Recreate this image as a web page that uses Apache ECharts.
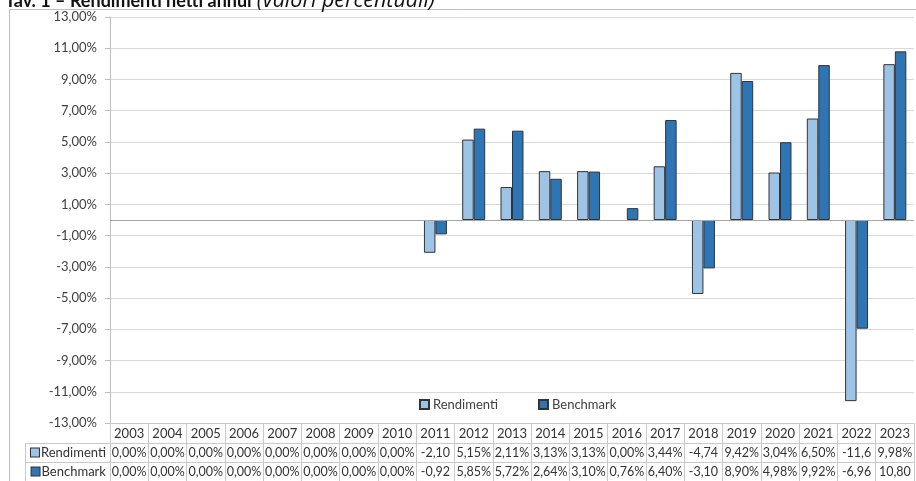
<!DOCTYPE html>
<html>
<head>
<meta charset="utf-8">
<title>Rendimenti netti annui</title>
<script src="https://cdn.jsdelivr.net/npm/echarts@6/dist/echarts.min.js"></script>
<style>
  html, body { margin: 0; padding: 0; background: #fff; }
  #chart { width: 916px; height: 481px; }
</style>
</head>
<body>
<div id="chart"></div>
<script>
// Anni della tabella
const years = ['2003','2004','2005','2006','2007','2008','2009','2010','2011','2012','2013',
               '2014','2015','2016','2017','2018','2019','2020','2021','2022','2023'];
// Rendimenti netti annui del fondo (%)
const rendimenti = [0, 0, 0, 0, 0, 0, 0, 0, -2.10, 5.15, 2.11, 3.13, 3.13, 0.00, 3.44, -4.74, 9.42, 3.04, 6.50, -11.60, 9.98];
// Rendimenti del benchmark (%)
const benchmark = [0, 0, 0, 0, 0, 0, 0, 0, -0.92, 5.85, 5.72, 2.64, 3.10, 0.76, 6.40, -3.10, 8.90, 4.98, 9.92, -6.96, 10.80];
// Scala dell'asse verticale (%)
const yMin = -13, yMax = 13, yStep = 2;

const FONT = 'Lato, "Open Sans", sans-serif';
const COL_R = '#9DC3E6';
const COL_B = '#2E75B6';
const EDGE = '#333333';
const CELL = '#c9c9c9';
const FS = 13;
const FS_CELL = 12.5;

const fmtPct = v => v.toFixed(2).replace('.', ',') + '%';
// le celle della tabella mostrano solo i caratteri che ci stanno (cinque)
const cellText = v => fmtPct(v).slice(0, 5);

// valori nulli: nessun bordo, così non compare una linea sullo zero
const barData = (arr) => arr.map(v => v === 0 ? { value: v, itemStyle: { borderWidth: 0 } } : v);

const rowName = (key, label) => '{' + key + '|}{t|' + label + '}';
const rowRich = {
  r: { width: 8, height: 8, backgroundColor: COL_R, borderColor: EDGE, borderWidth: 1 },
  b: { width: 8, height: 8, backgroundColor: COL_B, borderColor: EDGE, borderWidth: 1 },
  t: { fontFamily: FONT, fontSize: FS, color: '#333', padding: [0, 0, 0, 2] }
};

const chart = echarts.init(document.getElementById('chart'), null, { renderer: 'canvas' });

const gridLeft = 110, gridTop = 17, gridHeight = 406;

chart.setOption({
  animation: false,
  backgroundColor: '#fff',
  title: {
    left: 0,
    top: -15,
    text: '{b|Tav. 1 – Rendimenti netti annui} {i|(valori percentuali)}',
    textStyle: {
      rich: {
        b: { fontFamily: FONT, fontSize: 18, fontWeight: 'bold', color: '#111' },
        i: { fontFamily: '"Open Sans", sans-serif', fontSize: 21.5, fontWeight: 'normal', fontStyle: 'italic', color: '#111' }
      }
    }
  },
  legend: {
    data: ['Rendimenti', 'Benchmark'],
    left: 419,
    top: 398,
    padding: 0,
    icon: 'rect',
    itemWidth: 9,
    itemHeight: 9,
    itemGap: 40,
    textStyle: { fontFamily: FONT, fontSize: FS, color: '#404040', padding: [0, 0, 0, -1] }
  },
  grid: { left: gridLeft, right: 2, top: gridTop, height: gridHeight, containLabel: false },
  xAxis: [
    {
      type: 'category',
      data: years,
      position: 'bottom',
      axisLine: { onZero: false, lineStyle: { color: CELL } },
      axisTick: { show: true, length: 60, lineStyle: { color: CELL } },
      axisLabel: { interval: 0, margin: 4, fontFamily: FONT, fontSize: FS, color: '#333' },
      splitLine: { show: false }
    },
    {
      type: 'category',
      data: years,
      position: 'bottom',
      offset: 20,
      axisLine: { onZero: false, lineStyle: { color: CELL } },
      axisTick: { show: false },
      axisLabel: { interval: 0, margin: 3, fontFamily: FONT, fontSize: FS_CELL, color: '#333',
                   formatter: (v, i) => cellText(rendimenti[i]) },
      name: rowName('r', 'Rendimenti'),
      nameLocation: 'start',
      nameGap: 3,
      nameTextStyle: { rich: rowRich, verticalAlign: 'top', padding: [3, 0, 0, 0] }
    },
    {
      type: 'category',
      data: years,
      position: 'bottom',
      offset: 39,
      axisLine: { onZero: false, lineStyle: { color: CELL } },
      axisTick: { show: false },
      axisLabel: { interval: 0, margin: 3, fontFamily: FONT, fontSize: FS_CELL, color: '#333',
                   formatter: (v, i) => cellText(benchmark[i]) },
      name: rowName('b', 'Benchmark'),
      nameLocation: 'start',
      nameGap: 3,
      nameTextStyle: { rich: rowRich, verticalAlign: 'top', padding: [3, 0, 0, 0] }
    },
    {
      type: 'category',
      data: years,
      position: 'bottom',
      offset: 58,
      axisLine: { onZero: false, lineStyle: { color: CELL } },
      axisTick: { show: false },
      axisLabel: { show: false }
    }
  ],
  yAxis: {
    type: 'value',
    min: yMin,
    max: yMax,
    interval: yStep,
    axisLine: { show: true, lineStyle: { color: '#bfbfbf' } },
    axisTick: { show: true, length: 5, lineStyle: { color: '#bfbfbf' } },
    axisLabel: { margin: 13, fontFamily: FONT, fontSize: FS, color: '#404040', formatter: v => fmtPct(v) },
    splitLine: { show: true, lineStyle: { color: '#d9d9d9' } }
  },
  series: [
    {
      name: 'Rendimenti',
      type: 'bar',
      xAxisIndex: 0,
      data: barData(rendimenti),
      barGap: '0%',
      barCategoryGap: '40%',
      itemStyle: { color: COL_R, borderColor: EDGE, borderWidth: 1 },
      markLine: {
        silent: true,
        symbol: 'none',
        label: { show: false },
        lineStyle: { color: '#a6a6a6', type: 'solid', width: 1 },
        data: [{ yAxis: 0 }]
      }
    },
    {
      name: 'Benchmark',
      type: 'bar',
      xAxisIndex: 0,
      data: barData(benchmark),
      barGap: '0%',
      barCategoryGap: '40%',
      itemStyle: { color: COL_B, borderColor: EDGE, borderWidth: 1 }
    }
  ],
  graphic: [
    // cornice del grafico
    { type: 'rect', silent: true, z: -1,
      shape: { x: 9.5, y: 9.5, width: 940, height: 500 },
      style: { fill: null, stroke: '#bfbfbf', lineWidth: 1 } },
    // colonna delle etichette di riga della tabella
    { type: 'polyline', silent: true,
      shape: { points: [[gridLeft, 443.5], [25.5, 443.5], [25.5, 490]] },
      style: { fill: null, stroke: CELL, lineWidth: 1 } },
    { type: 'line', silent: true,
      shape: { x1: 25.5, y1: 462.5, x2: gridLeft, y2: 462.5 },
      style: { stroke: CELL, lineWidth: 1 } }
  ]
});
</script>
</body>
</html>
